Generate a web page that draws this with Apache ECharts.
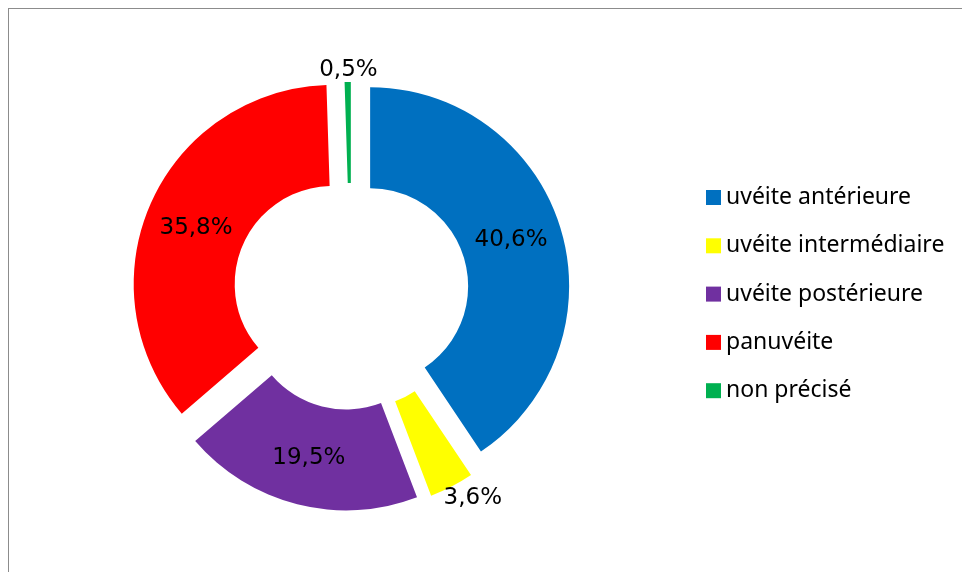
<!DOCTYPE html>
<html>
<head>
<meta charset="utf-8">
<script src="https://cdn.jsdelivr.net/npm/echarts@6/dist/echarts.min.js"></script>
<style>
html,body{margin:0;padding:0;background:#fff;}
#frame{position:absolute;left:8px;top:8px;width:1000px;height:600px;border:1px solid #8c8c8c;box-sizing:border-box;}
#chart{position:absolute;left:0;top:0;width:962px;height:572px;}
</style>
</head>
<body>
<div id="frame"></div>
<div id="chart"></div>
<script>
var categories = ['uvéite antérieure', 'uvéite intermédiaire', 'uvéite postérieure', 'panuvéite', 'non précisé'];
var values = [40.6, 3.6, 19.5, 35.8, 0.5];
var colors = ['#0070C0', '#FFFF00', '#7030A0', '#FF0000', '#00B050'];
// explosion distance per slice (px): main ring and the separately exploded small slice
var explodeMain = 20;
var explodeSmall = 11;
var smallIndex = 4;
// label nudges (px) relative to the inside position
var labelShift = {0: [-4, -2], 1: [43, 54], 3: [2, 5], 4: [0, -59]};

var chart = echarts.init(document.getElementById('chart'), null, {renderer: 'canvas'});
var transparent = 'rgba(0,0,0,0)';

function fmt(p) { return p.value.toFixed(1).replace('.', ',') + '%'; }

var mainData = categories.map(function (c, i) {
  var isSmall = i === smallIndex;
  return {
    name: c,
    value: values[i],
    selected: !isSmall,
    itemStyle: {color: isSmall ? transparent : colors[i]},
    label: {show: !isSmall}
  };
});
var smallData = categories.map(function (c, i) {
  var isSmall = i === smallIndex;
  return {
    name: c,
    value: values[i],
    selected: isSmall,
    itemStyle: {color: isSmall ? colors[i] : transparent},
    label: {show: isSmall}
  };
});

var labelCommon = {
  show: true,
  position: 'inside',
  fontFamily: 'DejaVu Sans',
  fontSize: 23,
  color: '#000',
  formatter: fmt
};

function layoutFn(params) {
  var s = labelShift[params.dataIndex];
  if (s) return {dx: s[0], dy: s[1]};
  return {};
}

var pieCommon = {
  type: 'pie',
  center: [351, 292],
  radius: [98, 199],
  startAngle: 90,
  clockwise: true,
  selectedMode: 'multiple',
  avoidLabelOverlap: false,
  silent: true,
  emphasis: {disabled: true},
  labelLine: {show: false},
  label: labelCommon,
  labelLayout: layoutFn
};

chart.setOption({
  animation: false,
  legend: {
    orient: 'vertical',
    left: 701,
    top: 181,
    icon: 'rect',
    itemWidth: 15,
    itemHeight: 15,
    itemGap: 25.3,
    selectedMode: false,
    textStyle: {fontFamily: 'Noto Sans', fontSize: 23, color: '#000', lineHeight: 23},
    data: categories.map(function (c, i) {
      return {name: c, itemStyle: {color: colors[i]}};
    })
  },
  series: [
    Object.assign({}, pieCommon, {selectedOffset: explodeMain, data: mainData}),
    Object.assign({}, pieCommon, {selectedOffset: explodeSmall, data: smallData})
  ]
});
</script>
</body>
</html>
